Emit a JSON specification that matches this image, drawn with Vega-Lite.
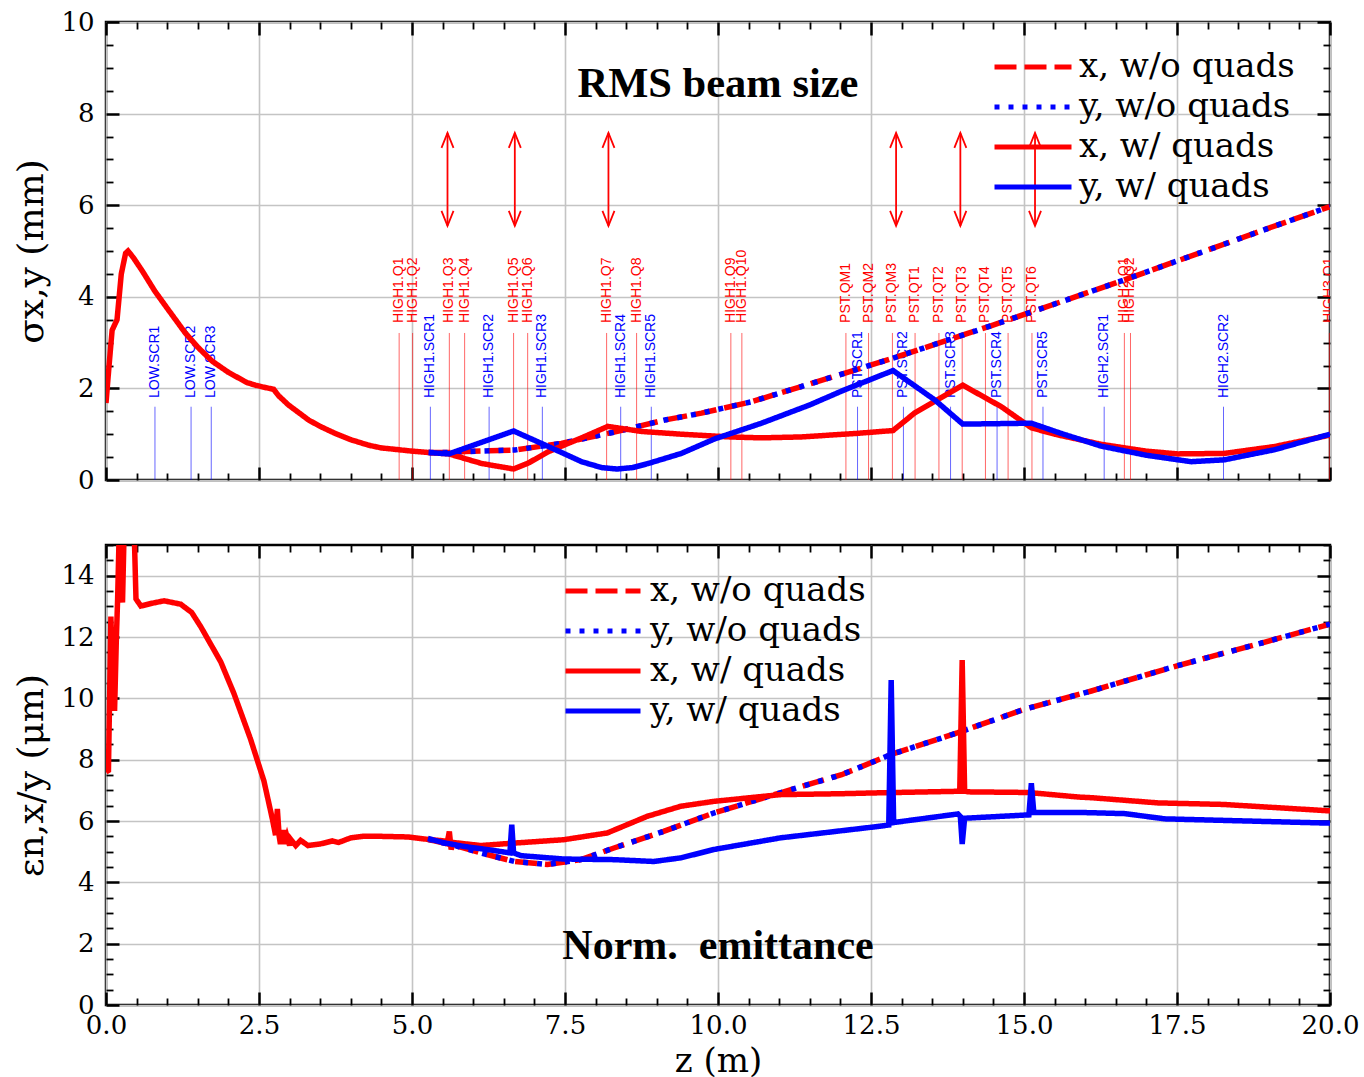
{
  "$schema": "https://vega.github.io/schema/vega-lite/v6.json",
  "padding": {"left": 12, "top": 7, "right": 10, "bottom": 0},
  "background": "white",
  "config": {
    "font": "DejaVu Serif",
    "view": {"stroke": "black", "strokeWidth": 2.5},
    "concat": {"spacing": 65}
  },
  "datasets": {
    "top": [
      {"z": 5.27, "v": 0.6, "series": "x, w/o quads"},
      {"z": 5.6, "v": 0.6, "series": "x, w/o quads"},
      {"z": 5.87, "v": 0.62, "series": "x, w/o quads"},
      {"z": 6.68, "v": 0.655, "series": "x, w/o quads"},
      {"z": 7.44, "v": 0.8, "series": "x, w/o quads"},
      {"z": 8.32, "v": 1.05, "series": "x, w/o quads"},
      {"z": 9.13, "v": 1.31, "series": "x, w/o quads"},
      {"z": 9.73, "v": 1.46, "series": "x, w/o quads"},
      {"z": 10.55, "v": 1.71, "series": "x, w/o quads"},
      {"z": 11.36, "v": 2.04, "series": "x, w/o quads"},
      {"z": 12.86, "v": 2.66, "series": "x, w/o quads"},
      {"z": 14.08, "v": 3.2, "series": "x, w/o quads"},
      {"z": 14.47, "v": 3.37, "series": "x, w/o quads"},
      {"z": 15.93, "v": 4.04, "series": "x, w/o quads"},
      {"z": 16.64, "v": 4.37, "series": "x, w/o quads"},
      {"z": 18.0, "v": 5.02, "series": "x, w/o quads"},
      {"z": 19.0, "v": 5.5, "series": "x, w/o quads"},
      {"z": 20.0, "v": 5.97, "series": "x, w/o quads"},
      {"z": 5.27, "v": 0.6, "series": "y, w/o quads"},
      {"z": 5.6, "v": 0.6, "series": "y, w/o quads"},
      {"z": 5.87, "v": 0.62, "series": "y, w/o quads"},
      {"z": 6.68, "v": 0.655, "series": "y, w/o quads"},
      {"z": 7.44, "v": 0.8, "series": "y, w/o quads"},
      {"z": 8.32, "v": 1.05, "series": "y, w/o quads"},
      {"z": 9.13, "v": 1.31, "series": "y, w/o quads"},
      {"z": 9.73, "v": 1.46, "series": "y, w/o quads"},
      {"z": 10.55, "v": 1.71, "series": "y, w/o quads"},
      {"z": 11.36, "v": 2.04, "series": "y, w/o quads"},
      {"z": 12.86, "v": 2.66, "series": "y, w/o quads"},
      {"z": 14.08, "v": 3.2, "series": "y, w/o quads"},
      {"z": 14.47, "v": 3.37, "series": "y, w/o quads"},
      {"z": 15.93, "v": 4.04, "series": "y, w/o quads"},
      {"z": 16.64, "v": 4.37, "series": "y, w/o quads"},
      {"z": 18.0, "v": 5.02, "series": "y, w/o quads"},
      {"z": 19.0, "v": 5.5, "series": "y, w/o quads"},
      {"z": 20.0, "v": 5.97, "series": "y, w/o quads"},
      {"z": 0.0, "v": 1.68, "series": "x, w/ quads"},
      {"z": 0.05, "v": 2.5, "series": "x, w/ quads"},
      {"z": 0.1, "v": 3.27, "series": "x, w/ quads"},
      {"z": 0.18, "v": 3.5, "series": "x, w/ quads"},
      {"z": 0.25, "v": 4.5, "series": "x, w/ quads"},
      {"z": 0.32, "v": 4.95, "series": "x, w/ quads"},
      {"z": 0.36, "v": 5.0, "series": "x, w/ quads"},
      {"z": 0.45, "v": 4.85, "series": "x, w/ quads"},
      {"z": 0.6, "v": 4.55, "series": "x, w/ quads"},
      {"z": 0.8, "v": 4.12, "series": "x, w/ quads"},
      {"z": 1.0, "v": 3.75, "series": "x, w/ quads"},
      {"z": 1.29, "v": 3.22, "series": "x, w/ quads"},
      {"z": 1.5, "v": 2.9, "series": "x, w/ quads"},
      {"z": 1.73, "v": 2.6, "series": "x, w/ quads"},
      {"z": 2.0, "v": 2.35, "series": "x, w/ quads"},
      {"z": 2.3, "v": 2.13, "series": "x, w/ quads"},
      {"z": 2.44, "v": 2.07, "series": "x, w/ quads"},
      {"z": 2.6, "v": 2.02, "series": "x, w/ quads"},
      {"z": 2.74, "v": 1.98, "series": "x, w/ quads"},
      {"z": 2.82, "v": 1.84, "series": "x, w/ quads"},
      {"z": 2.9, "v": 1.74, "series": "x, w/ quads"},
      {"z": 2.98, "v": 1.64, "series": "x, w/ quads"},
      {"z": 3.1, "v": 1.52, "series": "x, w/ quads"},
      {"z": 3.31, "v": 1.31, "series": "x, w/ quads"},
      {"z": 3.5, "v": 1.17, "series": "x, w/ quads"},
      {"z": 3.74, "v": 1.02, "series": "x, w/ quads"},
      {"z": 4.0, "v": 0.88, "series": "x, w/ quads"},
      {"z": 4.29, "v": 0.76, "series": "x, w/ quads"},
      {"z": 4.5, "v": 0.7, "series": "x, w/ quads"},
      {"z": 4.83, "v": 0.655, "series": "x, w/ quads"},
      {"z": 5.0, "v": 0.63, "series": "x, w/ quads"},
      {"z": 5.27, "v": 0.6, "series": "x, w/ quads"},
      {"z": 5.6, "v": 0.57, "series": "x, w/ quads"},
      {"z": 6.14, "v": 0.36, "series": "x, w/ quads"},
      {"z": 6.66, "v": 0.24, "series": "x, w/ quads"},
      {"z": 6.9, "v": 0.37, "series": "x, w/ quads"},
      {"z": 7.23, "v": 0.62, "series": "x, w/ quads"},
      {"z": 7.77, "v": 0.92, "series": "x, w/ quads"},
      {"z": 8.2, "v": 1.17, "series": "x, w/ quads"},
      {"z": 8.75, "v": 1.06, "series": "x, w/ quads"},
      {"z": 9.4, "v": 1.0, "series": "x, w/ quads"},
      {"z": 10.2, "v": 0.94, "series": "x, w/ quads"},
      {"z": 10.7, "v": 0.92, "series": "x, w/ quads"},
      {"z": 11.36, "v": 0.94, "series": "x, w/ quads"},
      {"z": 12.29, "v": 1.02, "series": "x, w/ quads"},
      {"z": 12.86, "v": 1.08, "series": "x, w/ quads"},
      {"z": 13.21, "v": 1.46, "series": "x, w/ quads"},
      {"z": 14.0, "v": 2.07, "series": "x, w/ quads"},
      {"z": 14.63, "v": 1.6, "series": "x, w/ quads"},
      {"z": 15.12, "v": 1.14, "series": "x, w/ quads"},
      {"z": 15.5, "v": 1.0, "series": "x, w/ quads"},
      {"z": 16.26, "v": 0.78, "series": "x, w/ quads"},
      {"z": 17.0, "v": 0.63, "series": "x, w/ quads"},
      {"z": 17.51, "v": 0.57, "series": "x, w/ quads"},
      {"z": 18.27, "v": 0.58, "series": "x, w/ quads"},
      {"z": 19.09, "v": 0.73, "series": "x, w/ quads"},
      {"z": 20.0, "v": 0.98, "series": "x, w/ quads"},
      {"z": 5.27, "v": 0.6, "series": "y, w/ quads"},
      {"z": 5.6, "v": 0.57, "series": "y, w/ quads"},
      {"z": 6.66, "v": 1.07, "series": "y, w/ quads"},
      {"z": 7.23, "v": 0.73, "series": "y, w/ quads"},
      {"z": 7.77, "v": 0.4, "series": "y, w/ quads"},
      {"z": 8.1, "v": 0.27, "series": "y, w/ quads"},
      {"z": 8.35, "v": 0.24, "series": "y, w/ quads"},
      {"z": 8.6, "v": 0.27, "series": "y, w/ quads"},
      {"z": 8.86, "v": 0.36, "series": "y, w/ quads"},
      {"z": 9.4, "v": 0.58, "series": "y, w/ quads"},
      {"z": 9.95, "v": 0.9, "series": "y, w/ quads"},
      {"z": 10.71, "v": 1.24, "series": "y, w/ quads"},
      {"z": 11.5, "v": 1.64, "series": "y, w/ quads"},
      {"z": 12.07, "v": 1.97, "series": "y, w/ quads"},
      {"z": 12.86, "v": 2.39, "series": "y, w/ quads"},
      {"z": 13.54, "v": 1.75, "series": "y, w/ quads"},
      {"z": 14.0, "v": 1.22, "series": "y, w/ quads"},
      {"z": 15.12, "v": 1.24, "series": "y, w/ quads"},
      {"z": 15.6, "v": 1.02, "series": "y, w/ quads"},
      {"z": 16.26, "v": 0.74, "series": "y, w/ quads"},
      {"z": 17.0, "v": 0.54, "series": "y, w/ quads"},
      {"z": 17.73, "v": 0.4, "series": "y, w/ quads"},
      {"z": 18.27, "v": 0.44, "series": "y, w/ quads"},
      {"z": 19.09, "v": 0.66, "series": "y, w/ quads"},
      {"z": 20.0, "v": 1.0, "series": "y, w/ quads"}
    ],
    "bottom": [
      {"z": 5.26, "v": 5.4, "series": "x, w/o quads"},
      {"z": 5.7, "v": 5.2, "series": "x, w/o quads"},
      {"z": 6.125, "v": 4.96, "series": "x, w/o quads"},
      {"z": 6.67, "v": 4.68, "series": "x, w/o quads"},
      {"z": 7.21, "v": 4.58, "series": "x, w/o quads"},
      {"z": 7.76, "v": 4.74, "series": "x, w/o quads"},
      {"z": 8.3, "v": 5.12, "series": "x, w/o quads"},
      {"z": 9.11, "v": 5.66, "series": "x, w/o quads"},
      {"z": 9.93, "v": 6.26, "series": "x, w/o quads"},
      {"z": 11.02, "v": 6.92, "series": "x, w/o quads"},
      {"z": 12.02, "v": 7.51, "series": "x, w/o quads"},
      {"z": 12.83, "v": 8.17, "series": "x, w/o quads"},
      {"z": 13.92, "v": 8.88, "series": "x, w/o quads"},
      {"z": 15.0, "v": 9.64, "series": "x, w/o quads"},
      {"z": 16.1, "v": 10.24, "series": "x, w/o quads"},
      {"z": 17.5, "v": 11.06, "series": "x, w/o quads"},
      {"z": 18.82, "v": 11.77, "series": "x, w/o quads"},
      {"z": 20.0, "v": 12.42, "series": "x, w/o quads"},
      {"z": 5.26, "v": 5.4, "series": "y, w/o quads"},
      {"z": 5.7, "v": 5.2, "series": "y, w/o quads"},
      {"z": 6.125, "v": 4.96, "series": "y, w/o quads"},
      {"z": 6.67, "v": 4.68, "series": "y, w/o quads"},
      {"z": 7.21, "v": 4.58, "series": "y, w/o quads"},
      {"z": 7.76, "v": 4.74, "series": "y, w/o quads"},
      {"z": 8.3, "v": 5.12, "series": "y, w/o quads"},
      {"z": 9.11, "v": 5.66, "series": "y, w/o quads"},
      {"z": 9.93, "v": 6.26, "series": "y, w/o quads"},
      {"z": 11.02, "v": 6.92, "series": "y, w/o quads"},
      {"z": 12.02, "v": 7.51, "series": "y, w/o quads"},
      {"z": 12.83, "v": 8.17, "series": "y, w/o quads"},
      {"z": 13.92, "v": 8.88, "series": "y, w/o quads"},
      {"z": 15.0, "v": 9.64, "series": "y, w/o quads"},
      {"z": 16.1, "v": 10.24, "series": "y, w/o quads"},
      {"z": 17.5, "v": 11.06, "series": "y, w/o quads"},
      {"z": 18.82, "v": 11.77, "series": "y, w/o quads"},
      {"z": 20.0, "v": 12.42, "series": "y, w/o quads"},
      {"z": 0.0, "v": 7.6, "series": "x, w/ quads"},
      {"z": 0.04, "v": 7.65, "series": "x, w/ quads"},
      {"z": 0.08, "v": 12.67, "series": "x, w/ quads"},
      {"z": 0.11, "v": 10.5, "series": "x, w/ quads"},
      {"z": 0.14, "v": 9.59, "series": "x, w/ quads"},
      {"z": 0.17, "v": 12.0, "series": "x, w/ quads"},
      {"z": 0.19, "v": 13.24, "series": "x, w/ quads"},
      {"z": 0.22, "v": 15.8, "series": "x, w/ quads"},
      {"z": 0.25, "v": 13.4, "series": "x, w/ quads"},
      {"z": 0.27, "v": 13.13, "series": "x, w/ quads"},
      {"z": 0.3, "v": 15.8, "series": "x, w/ quads"},
      {"z": 0.33, "v": 15.8, "series": "x, w/ quads"},
      {"z": 0.46, "v": 15.5, "series": "x, w/ quads"},
      {"z": 0.49, "v": 13.24, "series": "x, w/ quads"},
      {"z": 0.57, "v": 13.01, "series": "x, w/ quads"},
      {"z": 0.75, "v": 13.1, "series": "x, w/ quads"},
      {"z": 0.95, "v": 13.18, "series": "x, w/ quads"},
      {"z": 1.22, "v": 13.07, "series": "x, w/ quads"},
      {"z": 1.4, "v": 12.8, "series": "x, w/ quads"},
      {"z": 1.55, "v": 12.33, "series": "x, w/ quads"},
      {"z": 1.875, "v": 11.19, "series": "x, w/ quads"},
      {"z": 2.09, "v": 10.16, "series": "x, w/ quads"},
      {"z": 2.36, "v": 8.68, "series": "x, w/ quads"},
      {"z": 2.58, "v": 7.31, "series": "x, w/ quads"},
      {"z": 2.72, "v": 6.05, "series": "x, w/ quads"},
      {"z": 2.77, "v": 5.54, "series": "x, w/ quads"},
      {"z": 2.8, "v": 6.39, "series": "x, w/ quads"},
      {"z": 2.83, "v": 5.5, "series": "x, w/ quads"},
      {"z": 2.85, "v": 5.25, "series": "x, w/ quads"},
      {"z": 2.9, "v": 5.7, "series": "x, w/ quads"},
      {"z": 2.93, "v": 5.25, "series": "x, w/ quads"},
      {"z": 2.96, "v": 5.48, "series": "x, w/ quads"},
      {"z": 3.0, "v": 5.2, "series": "x, w/ quads"},
      {"z": 3.02, "v": 5.4, "series": "x, w/ quads"},
      {"z": 3.1, "v": 5.2, "series": "x, w/ quads"},
      {"z": 3.18, "v": 5.37, "series": "x, w/ quads"},
      {"z": 3.3, "v": 5.2, "series": "x, w/ quads"},
      {"z": 3.5, "v": 5.25, "series": "x, w/ quads"},
      {"z": 3.7, "v": 5.35, "series": "x, w/ quads"},
      {"z": 3.8, "v": 5.3, "series": "x, w/ quads"},
      {"z": 4.0, "v": 5.45, "series": "x, w/ quads"},
      {"z": 4.2, "v": 5.5, "series": "x, w/ quads"},
      {"z": 4.49, "v": 5.5, "series": "x, w/ quads"},
      {"z": 4.93, "v": 5.48, "series": "x, w/ quads"},
      {"z": 5.26, "v": 5.4, "series": "x, w/ quads"},
      {"z": 5.58, "v": 5.34, "series": "x, w/ quads"},
      {"z": 5.61, "v": 5.66, "series": "x, w/ quads"},
      {"z": 5.64, "v": 5.07, "series": "x, w/ quads"},
      {"z": 5.67, "v": 5.3, "series": "x, w/ quads"},
      {"z": 6.125, "v": 5.2, "series": "x, w/ quads"},
      {"z": 6.67, "v": 5.28, "series": "x, w/ quads"},
      {"z": 7.48, "v": 5.39, "series": "x, w/ quads"},
      {"z": 8.19, "v": 5.61, "series": "x, w/ quads"},
      {"z": 8.84, "v": 6.15, "series": "x, w/ quads"},
      {"z": 9.39, "v": 6.48, "series": "x, w/ quads"},
      {"z": 9.93, "v": 6.64, "series": "x, w/ quads"},
      {"z": 11.02, "v": 6.86, "series": "x, w/ quads"},
      {"z": 12.02, "v": 6.89, "series": "x, w/ quads"},
      {"z": 12.65, "v": 6.92, "series": "x, w/ quads"},
      {"z": 13.95, "v": 6.97, "series": "x, w/ quads"},
      {"z": 13.99, "v": 11.25, "series": "x, w/ quads"},
      {"z": 14.03, "v": 6.97, "series": "x, w/ quads"},
      {"z": 14.1, "v": 6.95, "series": "x, w/ quads"},
      {"z": 15.07, "v": 6.93, "series": "x, w/ quads"},
      {"z": 15.9, "v": 6.78, "series": "x, w/ quads"},
      {"z": 16.1, "v": 6.76, "series": "x, w/ quads"},
      {"z": 17.19, "v": 6.59, "series": "x, w/ quads"},
      {"z": 18.26, "v": 6.54, "series": "x, w/ quads"},
      {"z": 20.0, "v": 6.33, "series": "x, w/ quads"},
      {"z": 5.26, "v": 5.43, "series": "y, w/ quads"},
      {"z": 5.5, "v": 5.3, "series": "y, w/ quads"},
      {"z": 5.85, "v": 5.17, "series": "y, w/ quads"},
      {"z": 6.3, "v": 5.05, "series": "y, w/ quads"},
      {"z": 6.6, "v": 4.96, "series": "y, w/ quads"},
      {"z": 6.63, "v": 5.88, "series": "y, w/ quads"},
      {"z": 6.66, "v": 4.96, "series": "y, w/ quads"},
      {"z": 6.78, "v": 4.87, "series": "y, w/ quads"},
      {"z": 7.48, "v": 4.76, "series": "y, w/ quads"},
      {"z": 8.3, "v": 4.74, "series": "y, w/ quads"},
      {"z": 8.95, "v": 4.68, "series": "y, w/ quads"},
      {"z": 9.4, "v": 4.8, "series": "y, w/ quads"},
      {"z": 9.93, "v": 5.07, "series": "y, w/ quads"},
      {"z": 11.02, "v": 5.45, "series": "y, w/ quads"},
      {"z": 12.65, "v": 5.83, "series": "y, w/ quads"},
      {"z": 12.79, "v": 5.87, "series": "y, w/ quads"},
      {"z": 12.83, "v": 10.6, "series": "y, w/ quads"},
      {"z": 12.87, "v": 5.95, "series": "y, w/ quads"},
      {"z": 13.92, "v": 6.23, "series": "y, w/ quads"},
      {"z": 13.96, "v": 6.15, "series": "y, w/ quads"},
      {"z": 13.99, "v": 5.25, "series": "y, w/ quads"},
      {"z": 14.03, "v": 6.09, "series": "y, w/ quads"},
      {"z": 15.08, "v": 6.2, "series": "y, w/ quads"},
      {"z": 15.12, "v": 7.23, "series": "y, w/ quads"},
      {"z": 15.16, "v": 6.28, "series": "y, w/ quads"},
      {"z": 15.9, "v": 6.28, "series": "y, w/ quads"},
      {"z": 16.65, "v": 6.24, "series": "y, w/ quads"},
      {"z": 17.3, "v": 6.07, "series": "y, w/ quads"},
      {"z": 18.26, "v": 6.02, "series": "y, w/ quads"},
      {"z": 20.0, "v": 5.93, "series": "y, w/ quads"}
    ],
    "quads": [
      {"name": "HIGH1.Q1", "z": 4.79}, {"name": "HIGH1.Q2", "z": 5.01},
      {"name": "HIGH1.Q3", "z": 5.61}, {"name": "HIGH1.Q4", "z": 5.86},
      {"name": "HIGH1.Q5", "z": 6.66}, {"name": "HIGH1.Q6", "z": 6.89},
      {"name": "HIGH1.Q7", "z": 8.18}, {"name": "HIGH1.Q8", "z": 8.67},
      {"name": "HIGH1.Q9", "z": 10.21}, {"name": "HIGH1.Q10", "z": 10.39},
      {"name": "PST.QM1", "z": 12.09}, {"name": "PST.QM2", "z": 12.46},
      {"name": "PST.QM3", "z": 12.85}, {"name": "PST.QT1", "z": 13.22},
      {"name": "PST.QT2", "z": 13.61}, {"name": "PST.QT3", "z": 13.99},
      {"name": "PST.QT4", "z": 14.37}, {"name": "PST.QT5", "z": 14.74},
      {"name": "PST.QT6", "z": 15.13}, {"name": "HIGH2.Q1", "z": 16.64},
      {"name": "HIGH2.Q2", "z": 16.74}, {"name": "HIGH3.Q1", "z": 19.99}
    ],
    "screens": [
      {"name": "LOW.SCR1", "z": 0.8}, {"name": "LOW.SCR2", "z": 1.39},
      {"name": "LOW.SCR3", "z": 1.72}, {"name": "HIGH1.SCR1", "z": 5.3},
      {"name": "HIGH1.SCR2", "z": 6.26}, {"name": "HIGH1.SCR3", "z": 7.13},
      {"name": "HIGH1.SCR4", "z": 8.41}, {"name": "HIGH1.SCR5", "z": 8.91},
      {"name": "PST.SCR1", "z": 12.28}, {"name": "PST.SCR2", "z": 13.03},
      {"name": "PST.SCR3", "z": 13.8}, {"name": "PST.SCR4", "z": 14.56},
      {"name": "PST.SCR5", "z": 15.31}, {"name": "HIGH2.SCR1", "z": 16.31},
      {"name": "HIGH2.SCR2", "z": 18.26}
    ],
    "arrows": [
      {"z": 5.58}, {"z": 6.68}, {"z": 8.21}, {"z": 12.91}, {"z": 13.96}, {"z": 15.18}
    ]
  },
  "resolve": {"scale": {"color": "independent", "strokeDash": "independent"}},
  "bounds": "flush",
  "spacing": 65,
  "vconcat": [
    {
      "width": 1224,
      "height": 458,
      "resolve": {"axis": {"x": "independent", "y": "independent"}},
      "layer": [
        {
          "data": {"name": "screens"},
          "mark": {"type": "rule", "color": "#0000ff", "strokeWidth": 1, "opacity": 0.6},
          "encoding": {
            "x": {"field": "z", "type": "quantitative", "scale": {"domain": [0, 20], "nice": false, "zero": false},
              "axis": {"orient": "top", "values": [0,0.5,1,1.5,2,2.5,3,3.5,4,4.5,5,5.5,6,6.5,7,7.5,8,8.5,9,9.5,10,10.5,11,11.5,12,12.5,13,13.5,14,14.5,15,15.5,16,16.5,17,17.5,18,18.5,19,19.5,20],
                "labels": false, "title": null, "domain": false, "grid": false, "tickColor": "black",
                "tickSize": {"condition": {"test": "datum.value % 2.5 === 0", "value": -13}, "value": -7},
                "tickWidth": {"condition": {"test": "datum.value % 2.5 === 0", "value": 2.5}, "value": 1.8}}},
            "y": {"datum": 0, "scale": {"domain": [0, 10], "nice": false},
              "axis": {"orient": "right", "values": [0,0.5,1,1.5,2,2.5,3,3.5,4,4.5,5,5.5,6,6.5,7,7.5,8,8.5,9,9.5,10],
                "labels": false, "title": null, "domain": false, "grid": false, "tickColor": "black",
                "tickSize": {"condition": {"test": "datum.value % 2 === 0", "value": -13}, "value": -7},
                "tickWidth": {"condition": {"test": "datum.value % 2 === 0", "value": 2.5}, "value": 1.8}}},
            "y2": {"datum": 1.6}
          }
        },
        {
          "data": {"name": "screens"},
          "mark": {"type": "text", "color": "#0000ff", "font": "Liberation Sans", "fontSize": 14, "angle": 270, "align": "left", "baseline": "middle", "clip": true},
          "encoding": {
            "x": {"field": "z", "type": "quantitative", "axis": null},
            "y": {"datum": 1.79, "axis": null},
            "text": {"field": "name"}
          }
        },
        {
          "data": {"name": "quads"},
          "mark": {"type": "rule", "color": "#ff0000", "strokeWidth": 1, "opacity": 0.6},
          "encoding": {
            "x": {"field": "z", "type": "quantitative", "axis": null},
            "y": {"datum": 0, "axis": null},
            "y2": {"datum": 3.21}
          }
        },
        {
          "data": {"name": "quads"},
          "mark": {"type": "text", "color": "#ff0000", "font": "Liberation Sans", "fontSize": 14, "angle": 270, "align": "left", "baseline": "middle", "clip": true},
          "encoding": {
            "x": {"field": "z", "type": "quantitative", "axis": null},
            "y": {"datum": 3.43, "axis": null},
            "text": {"field": "name"}
          }
        },
        {
          "data": {"name": "top"},
          "mark": {"type": "line", "strokeWidth": 5.5, "clip": true},
          "encoding": {
            "x": {"field": "z", "type": "quantitative", "scale": {"domain": [0, 20], "nice": false, "zero": false},
              "axis": {"orient": "bottom", "values": [0,0.5,1,1.5,2,2.5,3,3.5,4,4.5,5,5.5,6,6.5,7,7.5,8,8.5,9,9.5,10,10.5,11,11.5,12,12.5,13,13.5,14,14.5,15,15.5,16,16.5,17,17.5,18,18.5,19,19.5,20],
                "labels": false, "title": null, "domain": false, "grid": true, "gridColor": "#c4c4c4", "gridWidth": 1.6,
                "gridOpacity": {"condition": {"test": "datum.value % 2.5 === 0", "value": 1}, "value": 0},
                "tickColor": "black",
                "tickSize": {"condition": {"test": "datum.value % 2.5 === 0", "value": -13}, "value": -7},
                "tickWidth": {"condition": {"test": "datum.value % 2.5 === 0", "value": 2.5}, "value": 1.8}}},
            "y": {"field": "v", "type": "quantitative", "scale": {"domain": [0, 10], "nice": false},
              "axis": {"orient": "left", "values": [0,0.5,1,1.5,2,2.5,3,3.5,4,4.5,5,5.5,6,6.5,7,7.5,8,8.5,9,9.5,10],
                "domain": false, "grid": true, "gridColor": "#c4c4c4", "gridWidth": 1.6,
                "gridOpacity": {"condition": {"test": "datum.value % 2 === 0", "value": 1}, "value": 0},
                "tickColor": "black",
                "tickSize": {"condition": {"test": "datum.value % 2 === 0", "value": -13}, "value": -7},
                "tickWidth": {"condition": {"test": "datum.value % 2 === 0", "value": 2.5}, "value": 1.8},
                "labelExpr": "datum.value % 2 === 0 ? '' + datum.value : ''",
                "labelFont": "DejaVu Serif", "labelFontSize": 26, "labelColor": "black", "labelPadding": 25,
                "labelOverlap": false, "labelBound": false, "labelFlush": false,
                "title": "σx,y (mm)", "titleFont": "DejaVu Serif", "titleFontSize": 36, "titleFontWeight": "normal", "titleColor": "black", "titlePadding": 10}},
            "color": {"field": "series", "type": "nominal",
              "scale": {"domain": ["x, w/o quads", "y, w/o quads", "x, w/ quads", "y, w/ quads"], "range": ["#ff0000", "#0000ff", "#ff0000", "#0000ff"]},
              "legend": {"orient": "none", "legendX": 886, "legendY": 30, "title": null, "symbolType": "stroke", "symbolSize": 5929, "symbolStrokeWidth": 5, "clipHeight": 30, "labelFont": "DejaVu Serif", "labelFontSize": 34, "labelLimit": 0, "labelColor": "black", "rowPadding": 6, "labelOffset": 5, "padding": 0}},
            "strokeDash": {"field": "series", "type": "nominal",
              "scale": {"domain": ["x, w/o quads", "y, w/o quads", "x, w/ quads", "y, w/ quads"], "range": [[22, 8], [5, 9], [1, 0], [1, 0]]},
              "legend": {"orient": "none", "legendX": 886, "legendY": 30, "title": null, "symbolType": "stroke", "symbolSize": 5929, "symbolStrokeWidth": 5, "clipHeight": 30, "labelFont": "DejaVu Serif", "labelFontSize": 34, "labelLimit": 0, "labelColor": "black", "rowPadding": 6, "labelOffset": 5, "padding": 0}}
          }
        },
        {
          "data": {"name": "arrows"},
          "mark": {"type": "rule", "color": "#ff0000", "strokeWidth": 1.8},
          "encoding": {
            "x": {"field": "z", "type": "quantitative", "axis": null},
            "y": {"datum": 5.55, "axis": null},
            "y2": {"datum": 7.58}
          }
        },
        {
          "data": {"name": "arrows"},
          "mark": {"type": "point", "shape": "M-0.8,2L0,0L0.8,2", "size": 225, "filled": false, "color": "#ff0000", "strokeWidth": 1.8, "opacity": 1},
          "encoding": {
            "x": {"field": "z", "type": "quantitative", "axis": null},
            "y": {"datum": 7.58, "axis": null}
          }
        },
        {
          "data": {"name": "arrows"},
          "mark": {"type": "point", "shape": "M-0.8,-2L0,0L0.8,-2", "size": 225, "filled": false, "color": "#ff0000", "strokeWidth": 1.8, "opacity": 1},
          "encoding": {
            "x": {"field": "z", "type": "quantitative", "axis": null},
            "y": {"datum": 5.55, "axis": null}
          }
        },
        {
          "data": {"values": [{}]},
          "mark": {"type": "text", "font": "Liberation Serif", "fontSize": 42.5, "fontWeight": "bold", "color": "black", "align": "center", "baseline": "middle"},
          "encoding": {
            "x": {"datum": 10, "axis": null},
            "y": {"datum": 8.65, "axis": null},
            "text": {"value": "RMS beam size"}
          }
        }
      ]
    },
    {
      "width": 1224,
      "height": 460,
      "resolve": {"axis": {"x": "independent", "y": "independent"}},
      "layer": [
        {
          "data": {"values": [{}]},
          "mark": {"type": "text", "font": "Liberation Serif", "fontSize": 42, "fontWeight": "bold", "color": "black", "align": "center", "baseline": "middle"},
          "encoding": {
            "x": {"datum": 10, "scale": {"domain": [0, 20], "nice": false, "zero": false},
              "axis": {"orient": "top", "values": [0,0.5,1,1.5,2,2.5,3,3.5,4,4.5,5,5.5,6,6.5,7,7.5,8,8.5,9,9.5,10,10.5,11,11.5,12,12.5,13,13.5,14,14.5,15,15.5,16,16.5,17,17.5,18,18.5,19,19.5,20],
                "labels": false, "title": null, "domain": false, "grid": false, "tickColor": "black",
                "tickSize": {"condition": {"test": "datum.value % 2.5 === 0", "value": -13}, "value": -7},
                "tickWidth": {"condition": {"test": "datum.value % 2.5 === 0", "value": 2.5}, "value": 1.8}}},
            "y": {"datum": 1.93, "scale": {"domain": [0, 15], "nice": false},
              "axis": {"orient": "right", "values": [0,0.5,1,1.5,2,2.5,3,3.5,4,4.5,5,5.5,6,6.5,7,7.5,8,8.5,9,9.5,10,10.5,11,11.5,12,12.5,13,13.5,14,14.5,15],
                "labels": false, "title": null, "domain": false, "grid": false, "tickColor": "black",
                "tickSize": {"condition": {"test": "datum.value % 2 === 0", "value": -13}, "value": -7},
                "tickWidth": {"condition": {"test": "datum.value % 2 === 0", "value": 2.5}, "value": 1.8}}},
            "text": {"value": "Norm.\u00a0 emittance"}
          }
        },
        {
          "data": {"name": "bottom"},
          "mark": {"type": "line", "strokeWidth": 5.5, "clip": true},
          "encoding": {
            "x": {"field": "z", "type": "quantitative", "scale": {"domain": [0, 20], "nice": false, "zero": false},
              "axis": {"orient": "bottom", "values": [0,0.5,1,1.5,2,2.5,3,3.5,4,4.5,5,5.5,6,6.5,7,7.5,8,8.5,9,9.5,10,10.5,11,11.5,12,12.5,13,13.5,14,14.5,15,15.5,16,16.5,17,17.5,18,18.5,19,19.5,20],
                "domain": false, "grid": true, "gridColor": "#c4c4c4", "gridWidth": 1.6,
                "gridOpacity": {"condition": {"test": "datum.value % 2.5 === 0", "value": 1}, "value": 0},
                "tickColor": "black",
                "tickSize": {"condition": {"test": "datum.value % 2.5 === 0", "value": -13}, "value": -7},
                "tickWidth": {"condition": {"test": "datum.value % 2.5 === 0", "value": 2.5}, "value": 1.8},
                "labelExpr": "datum.value % 2.5 === 0 ? format(datum.value, '.1f') : ''",
                "labelFont": "DejaVu Serif", "labelFontSize": 26, "labelColor": "black", "labelPadding": 20,
                "labelOverlap": false, "labelBound": false, "labelFlush": false,
                "title": "z (m)", "titleFont": "DejaVu Serif", "titleFontSize": 34, "titleFontWeight": "normal", "titleColor": "black", "titlePadding": 0}},
            "y": {"field": "v", "type": "quantitative", "scale": {"domain": [0, 15], "nice": false},
              "axis": {"orient": "left", "values": [0,0.5,1,1.5,2,2.5,3,3.5,4,4.5,5,5.5,6,6.5,7,7.5,8,8.5,9,9.5,10,10.5,11,11.5,12,12.5,13,13.5,14,14.5,15],
                "domain": false, "grid": true, "gridColor": "#c4c4c4", "gridWidth": 1.6,
                "gridOpacity": {"condition": {"test": "datum.value % 2 === 0", "value": 1}, "value": 0},
                "tickColor": "black",
                "tickSize": {"condition": {"test": "datum.value % 2 === 0", "value": -13}, "value": -7},
                "tickWidth": {"condition": {"test": "datum.value % 2 === 0", "value": 2.5}, "value": 1.8},
                "labelExpr": "datum.value % 2 === 0 ? '' + datum.value : ''",
                "labelFont": "DejaVu Serif", "labelFontSize": 26, "labelColor": "black", "labelPadding": 25,
                "labelOverlap": false, "labelBound": false, "labelFlush": false,
                "title": "εn,x/y (μm)", "titleFont": "DejaVu Serif", "titleFontSize": 36, "titleFontWeight": "normal", "titleColor": "black", "titlePadding": 10}},
            "color": {"field": "series", "type": "nominal",
              "scale": {"domain": ["x, w/o quads", "y, w/o quads", "x, w/ quads", "y, w/ quads"], "range": ["#ff0000", "#0000ff", "#ff0000", "#0000ff"]},
              "legend": {"orient": "none", "legendX": 457, "legendY": 31, "title": null, "symbolType": "stroke", "symbolSize": 5625, "symbolStrokeWidth": 5, "clipHeight": 30, "labelFont": "DejaVu Serif", "labelFontSize": 34, "labelLimit": 0, "labelColor": "black", "rowPadding": 6, "labelOffset": 7, "padding": 0}},
            "strokeDash": {"field": "series", "type": "nominal",
              "scale": {"domain": ["x, w/o quads", "y, w/o quads", "x, w/ quads", "y, w/ quads"], "range": [[22, 8], [5, 9], [1, 0], [1, 0]]},
              "legend": {"orient": "none", "legendX": 457, "legendY": 31, "title": null, "symbolType": "stroke", "symbolSize": 5625, "symbolStrokeWidth": 5, "clipHeight": 30, "labelFont": "DejaVu Serif", "labelFontSize": 34, "labelLimit": 0, "labelColor": "black", "rowPadding": 6, "labelOffset": 7, "padding": 0}}
          }
        }
      ]
    }
  ]
}
